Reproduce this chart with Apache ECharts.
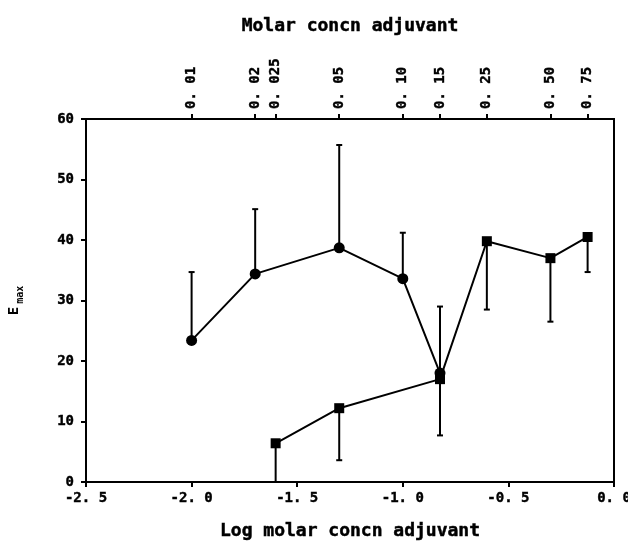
<!DOCTYPE html>
<html>
<head>
<meta charset="utf-8">
<script src="https://cdn.jsdelivr.net/npm/echarts@6/dist/echarts.min.js"></script>
<style>
  html, body { margin: 0; padding: 0; background: #fff; }
  #chart { width: 628px; height: 542px; }
</style>
</head>
<body>
<div id="chart"></div>
<script>
// circles: error bars go up
const circleConc = [0.01, 0.02, 0.05, 0.10, 0.15];
const circleVals = [23.4, 34.4, 38.7, 33.6, 18.0];
const circleErrTop = [34.7, 45.1, 55.7, 41.2, 29.0];

// squares: error bars go down
const squareConc = [0.025, 0.05, 0.15, 0.25, 0.50, 0.75];
const squareVals = [6.4, 12.2, 17.0, 39.8, 37.0, 40.5];
const squareErrBottom = [0, 3.6, 7.7, 28.5, 26.5, 34.7];

// top axis tick labels (molar concentration)
const topTickLabels = ['0.01', '0.02', '0.025', '0.05', '0.10', '0.15', '0.25', '0.50', '0.75'];

const font = 'DejaVu Sans Mono';
const ink = '#000';

function spaced(s) {
  return s.replace('.', '. ');
}

const topTickPos = topTickLabels.map(s => Math.log10(parseFloat(s)));

const circleData = circleConc.map((c, i) => [Math.log10(c), circleVals[i]]);
const squareData = squareConc.map((c, i) => [Math.log10(c), squareVals[i]]);
const circleErr = circleConc.map((c, i) => [Math.log10(c), circleVals[i], circleErrTop[i]]);
const squareErr = squareConc.map((c, i) => [Math.log10(c), squareVals[i], squareErrBottom[i]]);

function renderErr(params, api) {
  const p0 = api.coord([api.value(0), api.value(1)]);
  const p1 = api.coord([api.value(0), api.value(2)]);
  const style = { stroke: ink, lineWidth: 2 };
  return {
    type: 'group',
    children: [
      { type: 'line', shape: { x1: p0[0], y1: p0[1], x2: p1[0], y2: p1[1] }, style: style },
      { type: 'line', shape: { x1: p1[0] - 3, y1: p1[1], x2: p1[0] + 3, y2: p1[1] }, style: style }
    ]
  };
}

const labelStyle = {
  fontFamily: font, fontWeight: 'bold', fontSize: 14, color: ink,
  textBorderColor: ink, textBorderWidth: 0.4
};
const nameStyle = {
  fontFamily: font, fontWeight: 'bold', fontSize: 18, color: ink,
  textBorderColor: ink, textBorderWidth: 0.5
};

const chart = echarts.init(document.getElementById('chart'));

const option = {
  backgroundColor: '#fff',
  animation: false,
  grid: {
    left: 86, right: 14, top: 119, bottom: 60,
    outerBoundsMode: 'none',
    show: true, borderColor: ink, borderWidth: 2
  },
  xAxis: [
    {
      type: 'value', position: 'bottom',
      min: -2.5, max: 0, interval: 0.5,
      name: 'Log molar concn adjuvant',
      nameLocation: 'middle', nameGap: 40,
      nameTextStyle: nameStyle,
      axisLine: { onZero: false, lineStyle: { color: ink, width: 2 } },
      axisTick: { inside: false, length: 5, lineStyle: { color: ink, width: 2 } },
      axisLabel: Object.assign({ margin: 9, formatter: v => spaced(v.toFixed(1)) }, labelStyle),
      splitLine: { show: false }
    },
    {
      type: 'value', position: 'top',
      min: -2.5, max: 0,
      name: 'Molar concn adjuvant',
      nameLocation: 'middle', nameGap: 84,
      nameTextStyle: nameStyle,
      axisLine: { onZero: false, lineStyle: { color: ink, width: 2 } },
      axisTick: {
        inside: false, length: 5, lineStyle: { color: ink, width: 2 },
        customValues: topTickPos
      },
      axisLabel: Object.assign({
        margin: 10,
        rotate: -90,
        customValues: topTickPos,
        formatter: v => {
          let best = 0;
          topTickPos.forEach((p, i) => {
            if (Math.abs(p - v) < Math.abs(topTickPos[best] - v)) best = i;
          });
          return spaced(topTickLabels[best]);
        }
      }, labelStyle),
      splitLine: { show: false }
    }
  ],
  yAxis: {
    type: 'value', min: 0, max: 60, interval: 10,
    name: '{e|E}{s|max}',
    nameLocation: 'middle', nameGap: 61, nameRotate: 90,
    nameTextStyle: {
      rich: {
        e: { fontFamily: font, fontWeight: 'bold', fontSize: 14, color: ink, lineHeight: 18, verticalAlign: 'top' },
        s: { fontFamily: font, fontWeight: 'bold', fontSize: 10, color: ink, lineHeight: 18, verticalAlign: 'bottom', padding: [8, 0, 0, 3] }
      }
    },
    axisLine: { show: true, onZero: false, lineStyle: { color: ink, width: 2 } },
    axisTick: { show: true, inside: false, length: 5, lineStyle: { color: ink, width: 2 } },
    axisLabel: Object.assign({ margin: 12 }, labelStyle),
    splitLine: { show: false }
  },
  series: [
    {
      type: 'custom', name: 'circle err', xAxisIndex: 0,
      renderItem: renderErr, data: circleErr, z: 1
    },
    {
      type: 'custom', name: 'square err', xAxisIndex: 0,
      renderItem: renderErr, data: squareErr, z: 1
    },
    {
      type: 'line', name: 'circles', xAxisIndex: 0, data: circleData,
      symbol: 'circle', symbolSize: 11,
      lineStyle: { color: ink, width: 2 },
      itemStyle: { color: ink, borderWidth: 0 }, z: 3
    },
    {
      type: 'line', name: 'squares', xAxisIndex: 0, data: squareData,
      symbol: 'rect', symbolSize: 10,
      lineStyle: { color: ink, width: 2 },
      itemStyle: { color: ink, borderWidth: 0 }, z: 3
    }
  ]
};

chart.setOption(option);
</script>
</body>
</html>
